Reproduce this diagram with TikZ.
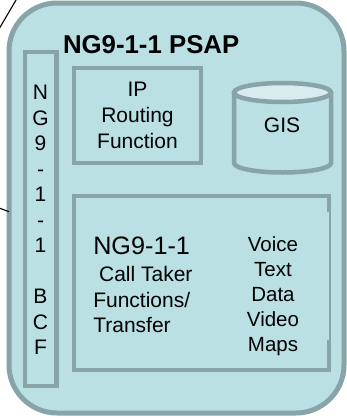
\documentclass[tikz,border=0pt]{standalone}
\usepackage{fontspec}
\setmainfont{Liberation Sans}
\usetikzlibrary{calc}
\definecolor{panelfill}{RGB}{186,224,227}
\definecolor{panelline}{RGB}{135,164,168}
\definecolor{disktop}{RGB}{216,236,240}
\tikzset{
  panel/.style={draw=panelline, fill=panelfill, line width=4.5pt, inner sep=0pt, outer sep=0pt},
  caption/.style={inner sep=0pt, outer sep=0pt, text=black},
  link/.style={draw=black, line width=1.1pt},
}
\begin{document}
\begin{tikzpicture}[x=1pt,y=-1pt]
\useasboundingbox (0,0) rectangle (347,418);
\clip (0,0) rectangle (347,418);

% PSAP housing
\node[panel, line width=5pt, rounded corners=48pt, minimum width=335pt, minimum height=410pt] (psap) at (176.5,208) {};
\node[caption, anchor=base west, font=\fontsize{25.8}{30}\selectfont\bfseries] (title) at (63,53.3) {NG9-1-1 PSAP};

% incoming links from the rest of the network
\coordinate (feedA) at (-2,30.7);
\coordinate (feedAend) at (17.8,-3);
\draw[link] (feedA) -- (feedAend);
\coordinate (feedB) at (-3,207.2);
\draw[link] (feedB) -- ($(psap.west)+(0,3.7)$);

% border control function column
\node[panel, minimum width=31.5pt, minimum height=334pt] (bcfbox) at (40.75,219) {};
\node[caption, anchor=north, align=center, font=\fontsize{21}{25.5}\selectfont] (bcf) at (40.5,85.2)
  {N\\G\\9\\-\\1\\-\\1\\ \\B\\C\\F};

% IP routing function
\node[panel, minimum width=127pt, minimum height=95pt] (iprf) at (137.5,115.5) {};
\node[caption, anchor=north, align=center, font=\fontsize{21}{25.8}\selectfont] (iprftext) at (137.5,82.5)
  {IP\\Routing\\Function};

% GIS data store
\path[fill=panelfill] (234,92.5) -- (234,163) arc[start angle=180, end angle=0, x radius=48.5, y radius=9.5] -- (331,92.5) -- cycle;
\draw[panelline, line width=4.5pt] (234,92.5) -- (234,163) arc[start angle=180, end angle=0, x radius=48.5, y radius=9.5] -- (331,92.5);
\draw[panelline, fill=disktop, line width=4.5pt] (282.5,92.5) ellipse[x radius=48.5, y radius=9.5];
\node[caption, font=\fontsize{21}{25}\selectfont] (gis) at (282,125.5) {GIS};

% call taker functions
\node[panel, minimum width=255pt, minimum height=174pt] (calltaker) at (201.5,283) {};
\fill[panelfill] (324.8,212) rectangle (328.6,340);
\node[caption, anchor=base west, font=\fontsize{25.2}{30}\selectfont] (ctname) at (93.3,254.3) {NG9-1-1};
\node[caption, anchor=north west, align=left, font=\fontsize{21}{25.4}\selectfont] (ctdesc) at (93.3,266.6)
  {\hspace*{5.8pt}Call Taker\\Functions/\\Transfer};
\node[caption, anchor=north, align=center, font=\fontsize{20.5}{25}\selectfont] (media) at (273,237)
  {Voice\\Text\\Data\\Video\\Maps};
\end{tikzpicture}
\end{document}
